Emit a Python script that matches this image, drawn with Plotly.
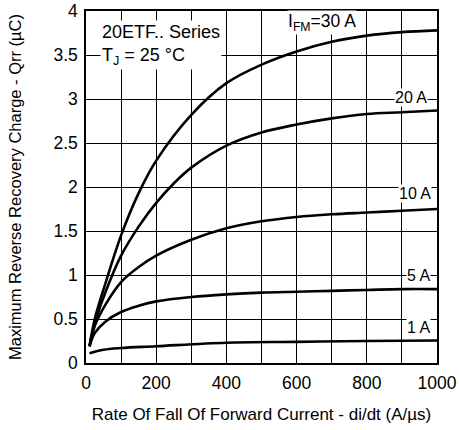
import plotly.graph_objects as go

# di/dt values (A/us) and Qrr values (uC)
x_30 = [10, 25, 55, 100, 150, 200, 300, 400, 500, 600, 700, 800, 900, 1000]
q_30 = [0.19, 0.50, 0.90, 1.45, 1.93, 2.30, 2.82, 3.18, 3.39, 3.54, 3.65, 3.72, 3.76, 3.78]

x_20 = [10, 25, 55, 100, 150, 200, 250, 300, 400, 500, 600, 700, 800, 900, 1000]
q_20 = [0.19, 0.45, 0.80, 1.22, 1.55, 1.82, 2.04, 2.22, 2.47, 2.62, 2.71, 2.78, 2.83, 2.85, 2.87]

x_10 = [10, 25, 55, 100, 150, 200, 300, 400, 500, 600, 700, 800, 900, 1000]
q_10 = [0.19, 0.42, 0.66, 0.92, 1.09, 1.22, 1.40, 1.53, 1.61, 1.66, 1.69, 1.71, 1.73, 1.75]

x_5 = [10, 25, 55, 100, 150, 200, 300, 400, 500, 600, 700, 800, 900, 1000]
q_5 = [0.19, 0.34, 0.47, 0.58, 0.65, 0.70, 0.75, 0.78, 0.80, 0.81, 0.82, 0.83, 0.84, 0.84]

x_1 = [10, 50, 100, 200, 400, 600, 800, 1000]
q_1 = [0.11, 0.15, 0.17, 0.19, 0.23, 0.24, 0.25, 0.255]

series = [(x_30, q_30), (x_20, q_20), (x_10, q_10), (x_5, q_5), (x_1, q_1)]

curve_labels = ["I<sub>FM</sub>=30 A", "20 A", "10 A", "5 A", "1 A"]
label_x = [672, 926, 937, 946, 946]
label_y = [3.875, 3.02, 1.93, 1.0, 0.40]
label_size = [17.5, 16, 16, 16, 16]

FONT = "Liberation Sans, Arial, sans-serif"

fig = go.Figure()
for xs, ys in series:
    fig.add_trace(go.Scatter(x=xs, y=ys, mode="lines",
                             line=dict(color="black", width=2.6, shape="spline", smoothing=1.0),
                             showlegend=False, hoverinfo="skip"))

for t, lx, ly, fs in zip(curve_labels, label_x, label_y, label_size):
    fig.add_annotation(x=lx, y=ly, text=t, showarrow=False, bgcolor="white",
                       borderpad=0, font=dict(size=fs, color="black", family=FONT))

fig.add_annotation(x=40, y=3.9, xanchor="left", yanchor="top", align="left",
                   text="20ETF.. Series<br>T<sub>J</sub> = 25 °C", showarrow=False,
                   bgcolor="white", borderpad=1,
                   font=dict(size=18, color="black", family=FONT))

axis_common = dict(showline=True, linecolor="black", linewidth=1.5, mirror=True,
                   showgrid=True, gridcolor="black", gridwidth=1, zeroline=False,
                   ticks="", automargin=False, ticklabelstandoff=3,
                   tickfont=dict(size=17.5, color="black", family=FONT))

fig.update_xaxes(range=[0, 1000], dtick=200, tick0=0,
                 minor=dict(dtick=100, showgrid=True, gridcolor="black", gridwidth=1),
                 title=dict(text="Rate Of Fall Of Forward Current - di/dt (A/µs)",
                            font=dict(size=17, color="black", family=FONT), standoff=16),
                 **axis_common)
fig.update_yaxes(range=[0, 4], dtick=0.5, tick0=0,
                 title=dict(text="Maximum Reverse Recovery Charge - Qrr (µC)",
                            font=dict(size=16.5, color="black", family=FONT), standoff=28),
                 **axis_common)

fig.update_layout(width=459, height=430, margin=dict(l=86, r=22, t=11, b=67),
                  plot_bgcolor="white", paper_bgcolor="white")

fig.write_html("out.html", config={"displayModeBar": False},
               post_script="document.body.style.margin='0';document.body.style.padding='0';")
